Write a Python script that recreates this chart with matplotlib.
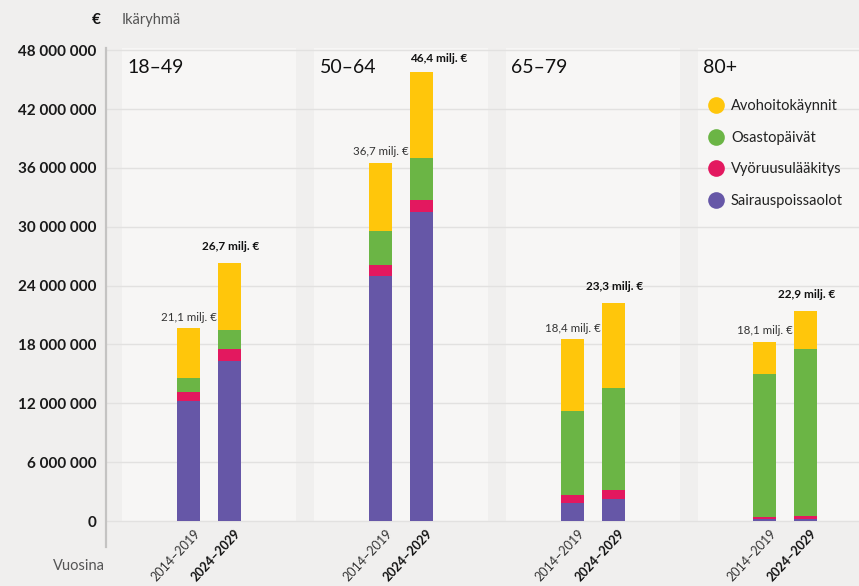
import matplotlib.pyplot as plt
from matplotlib.patches import Rectangle
from matplotlib.lines import Line2D
import numpy as np

plt.rcParams['font.family'] = ['Lato', 'DejaVu Sans']

# Data (euros)
age_groups = ['18–49', '50–64', '65–79', '80+']
periods = ['2014–2019', '2024–2029']

sairauspoissaolot_2014 = [12.2e6, 24.97e6, 1.83e6, 0.20e6]
vyoruusu_2014 = [0.95e6, 1.13e6, 0.82e6, 0.21e6]
osastopaivat_2014 = [1.43e6, 3.46e6, 8.55e6, 14.57e6]
avohoito_2014 = [5.09e6, 6.94e6, 7.35e6, 3.27e6]

sairauspoissaolot_2024 = [16.3e6, 31.5e6, 2.2e6, 0.20e6]
vyoruusu_2024 = [1.23e6, 1.2e6, 0.96e6, 0.30e6]
osastopaivat_2024 = [1.94e6, 4.3e6, 10.44e6, 17.0e6]
avohoito_2024 = [6.83e6, 8.77e6, 8.6e6, 3.9e6]

total_labels_2014 = ['21,1 milj. €', '36,7 milj. €', '18,4 milj. €', '18,1 milj. €']
total_labels_2024 = ['26,7 milj. €', '46,4 milj. €', '23,3 milj. €', '22,9 milj. €']

series_names = ['Sairauspoissaolot', 'Vyöruusulääkitys', 'Osastopäivät', 'Avohoitokäynnit']
colors = ['#6657A7', '#E3185F', '#6BB545', '#FFC60B']

y_ticks = np.arange(0, 48e6 + 1, 6e6)

# Layout
bg = '#F0EFEE'
panel_bg = '#F7F6F5'
grid_col = '#E2E1E0'
bar_w = 0.12
offset = 0.107
panel_half = 0.453
y_top = 48.2e6
y_bottom = -2.7e6

fig = plt.figure(figsize=(8.59, 5.86), dpi=100, facecolor=bg)
ax = fig.add_axes([0.1234, 0.0657, 0.8766, 0.8520])
ax.set_facecolor(bg)
ax.set_xlim(-0.5365, 3.385)
ax.set_ylim(y_bottom, y_top)

x = np.arange(len(age_groups))

# panel backgrounds
for xc in x:
    ax.add_patch(Rectangle((xc - panel_half, 0), 2 * panel_half, y_top,
                           facecolor=panel_bg, edgecolor='none', zorder=0))

# gridlines
for yt in y_ticks:
    ax.axhline(yt, color=grid_col, lw=1, zorder=1)

data_2014 = [sairauspoissaolot_2014, vyoruusu_2014, osastopaivat_2014, avohoito_2014]
data_2024 = [sairauspoissaolot_2024, vyoruusu_2024, osastopaivat_2024, avohoito_2024]

for pos, data in [(x - offset, data_2014), (x + offset, data_2024)]:
    bottom = np.zeros(len(x))
    for vals, col in zip(data, colors):
        ax.bar(pos, vals, bar_w, bottom=bottom, color=col, zorder=2)
        bottom += np.array(vals)

tot_2014 = np.sum(data_2014, axis=0)
tot_2024 = np.sum(data_2024, axis=0)

# total labels
for i in range(len(x)):
    ax.annotate(total_labels_2014[i], (x[i] - offset, tot_2014[i]),
                xytext=(0, 4), textcoords='offset points',
                ha='center', va='bottom', fontsize=8.3, color='#333333')
    if i == 1:
        ax.annotate(total_labels_2024[i], (x[i] + offset - bar_w / 2, tot_2024[i]),
                    xytext=(0, 6), textcoords='offset points',
                    ha='left', va='bottom', fontsize=8.5, fontweight='bold',
                    color='#111111')
    else:
        ax.annotate(total_labels_2024[i], (x[i] + offset, tot_2024[i]),
                    xytext=(1, 8), textcoords='offset points',
                    ha='center', va='bottom', fontsize=8.5, fontweight='bold',
                    color='#111111')

# panel titles
for i, g in enumerate(age_groups):
    ax.text(x[i] - 0.425, 46.2e6, g, fontsize=14, ha='left', va='center',
            color='#111111')

# period labels under bars
for i in range(len(x)):
    ax.text(x[i] - offset + 0.025, -0.6e6, periods[0], rotation=47,
            rotation_mode='anchor', ha='right', va='top', fontsize=9,
            color='#333333')
    ax.text(x[i] + offset + 0.025, -0.6e6, periods[1], rotation=47,
            rotation_mode='anchor', ha='right', va='top', fontsize=9,
            fontweight='bold', color='#111111')

# axes styling
ax.set_xticks([])
ax.set_yticks(y_ticks)
ax.set_yticklabels([f'{int(v):,}'.replace(',', ' ') for v in y_ticks],
                   fontsize=11, fontweight='bold', color='#1A1A1A')
ax.tick_params(axis='y', length=0, pad=7)
for s in ['top', 'right', 'bottom']:
    ax.spines[s].set_visible(False)
ax.spines['left'].set_color('#C4C3C2')
ax.spines['left'].set_linewidth(1.6)

# legend
handles = [Line2D([], [], marker='o', linestyle='none', markersize=12,
                  markerfacecolor=c, markeredgecolor='none')
           for c in colors[::-1]]
ax.legend(handles, series_names[::-1], loc='upper left',
          bbox_to_anchor=(0.800, 0.898), frameon=False, fontsize=10.5,
          handlelength=1, handletextpad=0.55, labelspacing=1.2,
          borderpad=0, borderaxespad=0, labelcolor='#222222')

# header/footer texts
fig.text(96 / 859, 1 - 20 / 586, '€', fontsize=11, fontweight='bold',
         ha='center', va='center', color='#111111')
fig.text(122 / 859, 1 - 20 / 586, 'Ikäryhmä', fontsize=10.5,
         ha='left', va='center', color='#555555')
fig.text(105 / 859, 1 - 566 / 586, 'Vuosina', fontsize=10.5,
         ha='right', va='center', color='#555555')

fig.savefig('out.png', dpi=100, facecolor=bg)
